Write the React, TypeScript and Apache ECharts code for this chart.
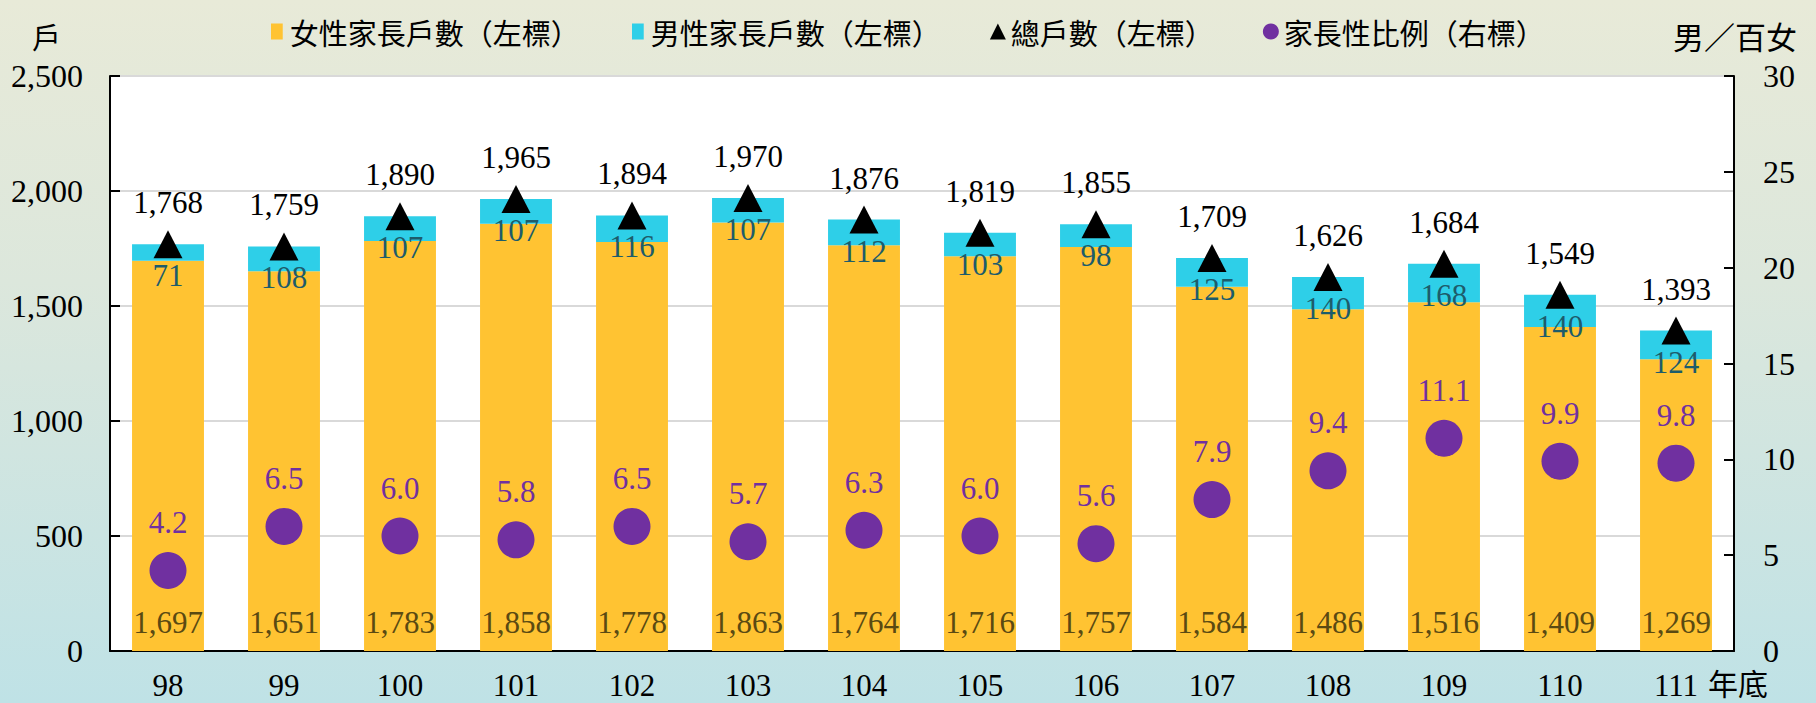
import React, { useEffect, useRef } from "react";
import * as echarts from "echarts";

const years = ["98", "99", "100", "101", "102", "103", "104", "105", "106", "107", "108", "109", "110", "111"];
const femaleHouseholds = [1697, 1651, 1783, 1858, 1778, 1863, 1764, 1716, 1757, 1584, 1486, 1516, 1409, 1269];
const maleHouseholds = [71, 108, 107, 107, 116, 107, 112, 103, 98, 125, 140, 168, 140, 124];
const totalHouseholds = [1768, 1759, 1890, 1965, 1894, 1970, 1876, 1819, 1855, 1709, 1626, 1684, 1549, 1393];
const sexRatio = [4.2, 6.5, 6.0, 5.8, 6.5, 5.7, 6.3, 6.0, 5.6, 7.9, 9.4, 11.1, 9.9, 9.8];
const leftTicks = { min: 0, max: 2500, interval: 500 };
const rightTicks = { min: 0, max: 30, interval: 5 };

const serif = "'Liberation Serif', 'Times New Roman', serif";
const cjk = "'Noto Sans CJK TC', 'Noto Sans CJK SC', sans-serif";
const fmt = (v: number) => v.toLocaleString("en-US");

const legendBase = {
  top: 12,
  itemGap: 49,
  itemWidth: 16,
  itemHeight: 16,
  textStyle: { fontFamily: cjk, fontSize: 29, color: "#000" },
};

export default function App() {
  const ref = useRef<HTMLDivElement>(null);
  useEffect(() => {
    if (!ref.current) return;
    const chart = echarts.init(ref.current, null, { renderer: "svg" });
    chart.setOption({
      animation: false,
      backgroundColor: "transparent",
      grid: {
        left: 110,
        right: 82,
        top: 76,
        bottom: 52,
        show: true,
        backgroundColor: "#ffffff",
        borderWidth: 0,
      },
      legend: [
        {
          ...legendBase,
          left: 266,
          data: [{ name: "女性家長戶數（左標）", icon: "path://M0,0h11v15h-11z" }],
        },
        {
          ...legendBase,
          left: 627,
          data: [
            { name: "男性家長戶數（左標）", icon: "path://M0,0h11v15h-11z" },
            { name: "總戶數（左標）", icon: "triangle" },
            { name: "家長性比例（右標）", icon: "circle" },
          ],
        },
      ],
      xAxis: {
        type: "category",
        data: years,
        axisLine: { lineStyle: { color: "#000", width: 2 } },
        axisTick: { inside: true, length: 9, lineStyle: { color: "#000", width: 2 } },
        axisLabel: { fontFamily: serif, fontSize: 31, color: "#000", margin: 19 },
      },
      yAxis: [
        {
          type: "value",
          ...leftTicks,
          axisLine: { show: true, lineStyle: { color: "#000", width: 2 } },
          axisTick: { show: true, inside: true, length: 10, lineStyle: { color: "#000", width: 2 } },
          axisLabel: { fontFamily: serif, fontSize: 32, color: "#000", margin: 27, formatter: (v: number) => fmt(v) },
          splitLine: { lineStyle: { color: "#d9d9d9", width: 2 } },
        },
        {
          type: "value",
          ...rightTicks,
          position: "right",
          axisLine: { show: true, lineStyle: { color: "#000", width: 2 } },
          axisTick: { show: true, inside: true, length: 10, lineStyle: { color: "#000", width: 2 } },
          axisLabel: { fontFamily: serif, fontSize: 32, color: "#000", margin: 29 },
          splitLine: { show: false },
        },
      ],
      series: [
        {
          name: "女性家長戶數（左標）",
          type: "bar",
          stack: "hh",
          data: femaleHouseholds,
          barWidth: "62%",
          itemStyle: { color: "#FFC332" },
          label: {
            show: true,
            position: "insideBottom",
            distance: 13,
            fontFamily: serif,
            fontSize: 31,
            color: "#5a4a12",
            formatter: (p: any) => fmt(p.value),
          },
          z: 2,
        },
        {
          name: "男性家長戶數（左標）",
          type: "bar",
          stack: "hh",
          data: maleHouseholds,
          barWidth: "62%",
          itemStyle: { color: "#2ECFE8" },
          label: {
            show: true,
            position: "insideTop",
            distance: 16,
            fontFamily: serif,
            fontSize: 31,
            color: "#1d5c6b",
          },
          z: 2,
        },
        {
          name: "總戶數（左標）",
          type: "scatter",
          data: totalHouseholds,
          symbol: "triangle",
          symbolSize: [29, 28],
          itemStyle: { color: "#000", opacity: 1 },
          label: {
            show: true,
            position: "top",
            distance: 12,
            fontFamily: serif,
            fontSize: 31,
            color: "#000",
            formatter: (p: any) => fmt(p.value),
          },
          z: 5,
        },
        {
          name: "家長性比例（右標）",
          type: "scatter",
          yAxisIndex: 1,
          data: sexRatio,
          symbol: "circle",
          symbolSize: 37,
          itemStyle: { color: "#7030A0", opacity: 1 },
          label: {
            show: true,
            position: "top",
            distance: 14,
            fontFamily: serif,
            fontSize: 31,
            color: "#7030A0",
            formatter: (p: any) => Number(p.value).toFixed(1),
          },
          z: 5,
        },
      ],
      graphic: [
        { type: "text", left: 32, top: 21, style: { text: "戶", fontFamily: cjk, fontSize: 29, fill: "#000" } },
        { type: "text", left: 1673, top: 20, style: { text: "男／百女", fontFamily: cjk, fontSize: 31, fill: "#000" } },
        { type: "text", left: 1708, top: 667, style: { text: "年底", fontFamily: cjk, fontSize: 30, fill: "#000" } },
      ],
    });
    return () => chart.dispose();
  }, []);
  return (
    <div
      ref={ref}
      style={{
        position: "absolute",
        left: 0,
        top: 0,
        width: 1816,
        height: 703,
        background: "linear-gradient(to bottom, #E8EAD8 0%, #DCE7DC 40%, #BFE2E6 100%)",
      }}
    />
  );
}
